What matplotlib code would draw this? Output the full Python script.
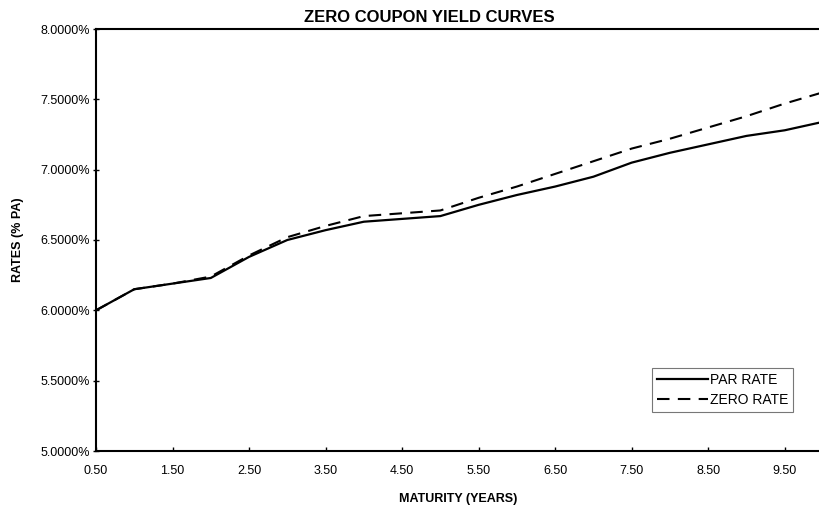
import matplotlib
matplotlib.use("Agg")
import matplotlib.pyplot as plt
from matplotlib.ticker import FuncFormatter, FixedLocator

plt.rcParams['font.family'] = ['Liberation Sans', 'DejaVu Sans']

# maturities in years, half-yearly out to 10 years
maturity = [0.5, 1.0, 1.5, 2.0, 2.5, 3.0, 3.5, 4.0, 4.5, 5.0,
            5.5, 6.0, 6.5, 7.0, 7.5, 8.0, 8.5, 9.0, 9.5, 10.0]
# rates in % p.a.
par_rate = [6.00, 6.15, 6.19, 6.23, 6.38, 6.50, 6.57, 6.63, 6.65, 6.67,
            6.75, 6.82, 6.88, 6.95, 7.05, 7.12, 7.18, 7.24, 7.28, 7.34]
zero_rate = [6.00, 6.15, 6.19, 6.24, 6.39, 6.52, 6.60, 6.67, 6.69, 6.71,
             6.80, 6.88, 6.97, 7.06, 7.15, 7.22, 7.30, 7.38, 7.47, 7.55]
xtick_labels = [0.5, 1.5, 2.5, 3.5, 4.5, 5.5, 6.5, 7.5, 8.5, 9.5]
ytick_values = [5.0, 5.5, 6.0, 6.5, 7.0, 7.5, 8.0]

fig = plt.figure(figsize=(8.19, 5.07), dpi=100)
# plot area runs off the right edge of the page
ax = fig.add_axes([96 / 819, 1 - 451 / 507, (823 - 96) / 819, (451 - 29) / 507])

ax.plot(maturity, par_rate, color='black', lw=1.6, label='PAR RATE')
ax.plot(maturity, zero_rate, color='black', lw=1.5, linestyle=(0, (6, 4)),
        label='ZERO RATE')

ax.set_xlim(0.5, 10.0)
ax.set_ylim(5.0, 8.0)
ax.xaxis.set_major_locator(FixedLocator(xtick_labels))
ax.xaxis.set_major_formatter(FuncFormatter(lambda v, p: f'{v:.2f}'))
ax.yaxis.set_major_locator(FixedLocator(ytick_values))
ax.yaxis.set_major_formatter(FuncFormatter(lambda v, p: f'{v:.4f}%'))
ax.tick_params(axis='x', direction='in', length=3, width=1, pad=10, labelsize=9)
ax.tick_params(axis='y', direction='inout', length=5, width=1, pad=2, labelsize=9)

for side in ['left', 'bottom', 'top']:
    ax.spines[side].set_linewidth(1.5)
ax.spines['right'].set_visible(False)

leg = ax.legend(loc='lower left', bbox_to_anchor=(0.765, 0.092), fontsize=10,
                handlelength=3.7, handletextpad=0.1, frameon=True, fancybox=False,
                borderpad=0.35, labelspacing=0.45, borderaxespad=0)
leg.get_frame().set_edgecolor('#555555')
leg.get_frame().set_linewidth(0.8)

fig.text(429 / 819, 1 - 18 / 507, 'ZERO COUPON YIELD CURVES', ha='center', va='center',
         fontsize=12, fontweight='bold')
fig.text(18 / 819, 1 - 240 / 507, 'RATES (% PA)', ha='center', va='center',
         rotation=90, fontsize=9, fontweight='bold')
fig.text(458 / 819, 1 - 499 / 507, 'MATURITY (YEARS)', ha='center', va='center',
         fontsize=9, fontweight='bold')

fig.savefig('out.png', dpi=100)
